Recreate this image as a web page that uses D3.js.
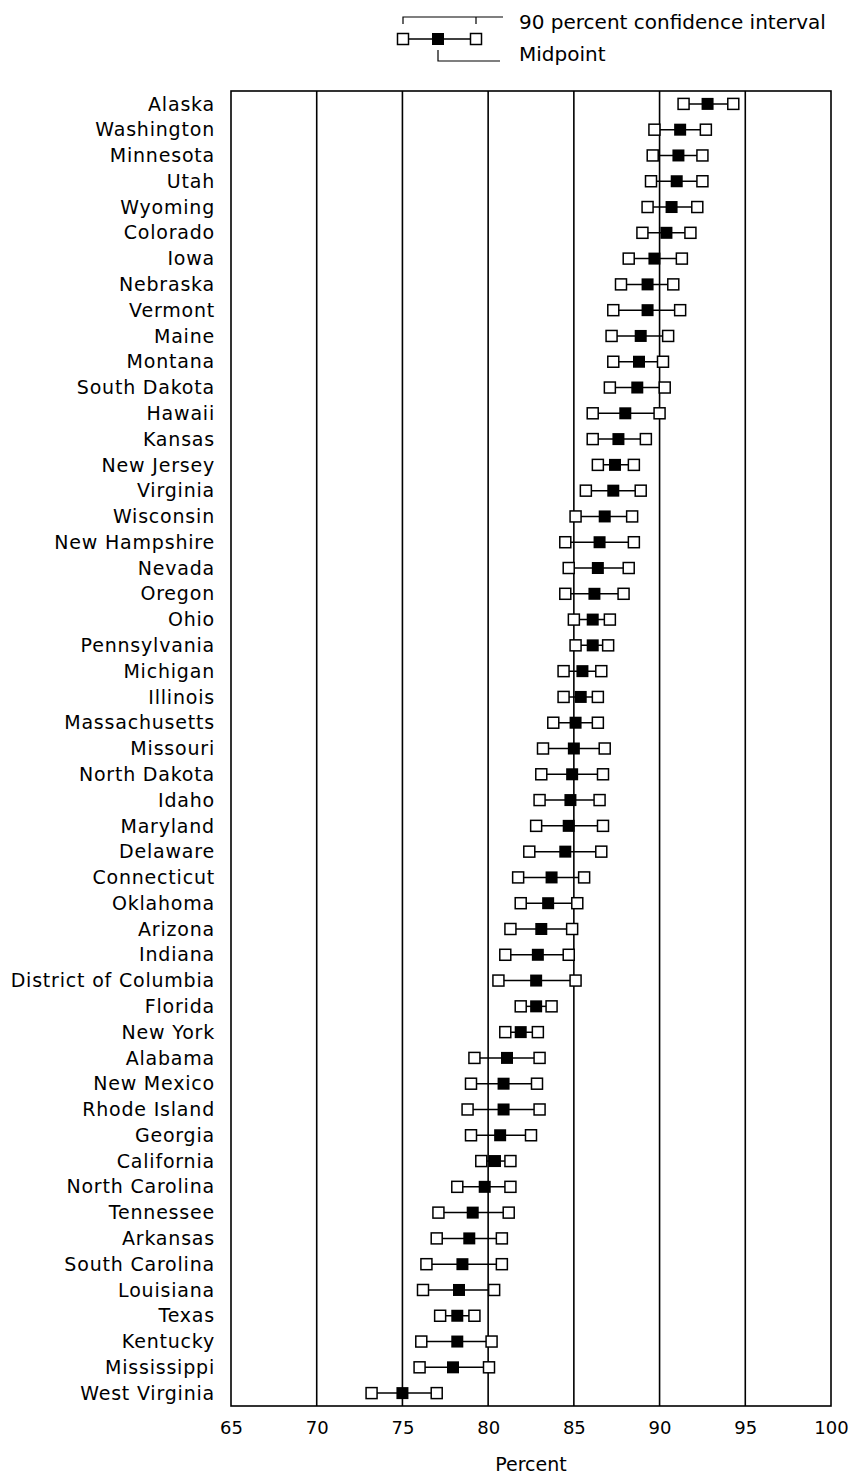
<!DOCTYPE html>
<html>
<head>
<meta charset="utf-8">
<script src="https://cdnjs.cloudflare.com/ajax/libs/d3/7.8.5/d3.min.js"></script>
<style>
    body { margin: 0; background: #fff; }
    svg text { font-family: "DejaVu Sans", sans-serif; fill: #000; }
</style>
</head>
<body>
<svg id="chart" width="852" height="1475"></svg>
<script>

    /*=============== DATA ============*/

    var states = [
        'Alaska', 'Washington', 'Minnesota', 'Utah', 'Wyoming', 'Colorado', 'Iowa', 'Nebraska',
        'Vermont', 'Maine', 'Montana', 'South Dakota', 'Hawaii', 'Kansas', 'New Jersey', 'Virginia',
        'Wisconsin', 'New Hampshire', 'Nevada', 'Oregon', 'Ohio', 'Pennsylvania', 'Michigan',
        'Illinois', 'Massachusetts', 'Missouri', 'North Dakota', 'Idaho', 'Maryland', 'Delaware',
        'Connecticut', 'Oklahoma', 'Arizona', 'Indiana', 'District of Columbia', 'Florida',
        'New York', 'Alabama', 'New Mexico', 'Rhode Island', 'Georgia', 'California',
        'North Carolina', 'Tennessee', 'Arkansas', 'South Carolina', 'Louisiana', 'Texas',
        'Kentucky', 'Mississippi', 'West Virginia'
    ];

    var midpoints = [
        92.8, 91.2, 91.1, 91.0, 90.7, 90.4, 89.7, 89.3,
        89.3, 88.9, 88.8, 88.7, 88.0, 87.6, 87.4, 87.3,
        86.8, 86.5, 86.4, 86.2, 86.1, 86.1, 85.5,
        85.4, 85.1, 85.0, 84.9, 84.8, 84.7, 84.5,
        83.7, 83.5, 83.1, 82.9, 82.8, 82.8,
        81.9, 81.1, 80.9, 80.9, 80.7, 80.4,
        79.8, 79.1, 78.9, 78.5, 78.3, 78.2,
        78.2, 77.95, 75.0
    ];

    var lower = [
        91.4, 89.7, 89.6, 89.5, 89.3, 89.0, 88.2, 87.75,
        87.3, 87.2, 87.3, 87.1, 86.1, 86.1, 86.4, 85.7,
        85.1, 84.5, 84.7, 84.5, 85.0, 85.1, 84.4,
        84.4, 83.8, 83.2, 83.1, 83.0, 82.8, 82.4,
        81.75, 81.9, 81.3, 81.0, 80.6, 81.9,
        81.0, 79.2, 79.0, 78.8, 79.0, 79.6,
        78.2, 77.1, 77.0, 76.4, 76.2, 77.2,
        76.1, 76.0, 73.2
    ];

    var upper = [
        94.3, 92.7, 92.5, 92.5, 92.2, 91.8, 91.3, 90.8,
        91.2, 90.5, 90.2, 90.3, 90.0, 89.2, 88.5, 88.9,
        88.4, 88.5, 88.2, 87.9, 87.1, 87.0, 86.6,
        86.4, 86.4, 86.8, 86.7, 86.5, 86.7, 86.6,
        85.6, 85.2, 84.9, 84.7, 85.1, 83.7,
        82.9, 83.0, 82.85, 83.0, 82.5, 81.3,
        81.3, 81.2, 80.8, 80.8, 80.35, 79.2,
        80.2, 80.05, 77.0
    ];

    var xTicks = [65, 70, 75, 80, 85, 90, 95, 100];
    var gridValues = [70, 75, 80, 85, 90, 95];

    (function () {

        var rows = states.map(function (name, i) {
            return { name: name, mid: midpoints[i], lo: lower[i], hi: upper[i] };
        });

        /*=============== LAYOUT ============*/

        var plotLeft = 231, plotRight = 831, plotTop = 91, plotBottom = 1406;
        var openSize = 11;
        var fillSize = 12;

        var svg = d3.select('#chart');

        var x = d3.scaleLinear().domain([65, 100]).range([plotLeft, plotRight]);
        var y = d3.scaleBand().domain(states).range([plotTop, plotBottom]).padding(0);

        var cy = function (d) {
            return y(d.name) + y.bandwidth() / 2;
        };

        /*=============== GRID AND FRAME ============*/

        svg.append('g').selectAll('line')
            .data(gridValues)
            .enter().append('line')
                .attr('x1', function (d) { return x(d); })
                .attr('x2', function (d) { return x(d); })
                .attr('y1', plotTop)
                .attr('y2', plotBottom)
                .attr('stroke', '#000')
                .attr('stroke-width', 1.6);

        svg.append('rect')
            .attr('x', plotLeft)
            .attr('y', plotTop)
            .attr('width', plotRight - plotLeft)
            .attr('height', plotBottom - plotTop)
            .attr('fill', 'none')
            .attr('stroke', '#000')
            .attr('stroke-width', 1.6);

        /*=============== X AXIS ============*/

        var xAxis = d3.axisBottom(x).tickValues(xTicks).tickSize(0).tickPadding(15);

        var axisG = svg.append('g')
            .attr('transform', 'translate(0,' + plotBottom + ')')
            .call(xAxis);

        axisG.select('.domain').remove();
        axisG.selectAll('text')
            .attr('font-size', '18px')
            .style('font-family', '"DejaVu Sans", sans-serif');

        svg.append('text')
            .attr('x', (plotLeft + plotRight) / 2)
            .attr('y', 1471)
            .attr('text-anchor', 'middle')
            .attr('font-size', '19px')
            .text('Percent');

        /*=============== STATE LABELS ============*/

        svg.append('g').selectAll('text')
            .data(rows)
            .enter().append('text')
                .attr('x', 215)
                .attr('y', cy)
                .attr('dy', '0.35em')
                .attr('text-anchor', 'end')
                .attr('font-size', '19px')
                .attr('letter-spacing', '0.8px')
                .text(function (d) { return d.name; });

        /*=============== INTERVALS ============*/

        var marks = svg.append('g').selectAll('g.state')
            .data(rows)
            .enter().append('g')
                .attr('class', 'state');

        marks.append('line')
            .attr('x1', function (d) { return x(d.lo); })
            .attr('x2', function (d) { return x(d.hi); })
            .attr('y1', cy)
            .attr('y2', cy)
            .attr('stroke', '#000')
            .attr('stroke-width', 1.5);

        ['lo', 'hi'].forEach(function (key) {
            marks.append('rect')
                .attr('x', function (d) { return x(d[key]) - openSize / 2; })
                .attr('y', function (d) { return cy(d) - openSize / 2; })
                .attr('width', openSize)
                .attr('height', openSize)
                .attr('fill', '#fff')
                .attr('stroke', '#000')
                .attr('stroke-width', 1.5);
        });

        marks.append('rect')
            .attr('x', function (d) { return x(d.mid) - fillSize / 2; })
            .attr('y', function (d) { return cy(d) - fillSize / 2; })
            .attr('width', fillSize)
            .attr('height', fillSize)
            .attr('fill', '#000');

        /*=============== LEGEND ============*/

        var legend = svg.append('g');
        var lx = [403, 438, 476];
        var ly = 39;

        legend.append('path')
            .attr('d', 'M' + lx[0] + ',24V17H503M' + lx[2] + ',17V24')
            .attr('fill', 'none')
            .attr('stroke', '#000')
            .attr('stroke-width', 1.2);

        legend.append('path')
            .attr('d', 'M' + lx[1] + ',50V61H500')
            .attr('fill', 'none')
            .attr('stroke', '#000')
            .attr('stroke-width', 1.2);

        legend.append('line')
            .attr('x1', lx[0]).attr('x2', lx[2])
            .attr('y1', ly).attr('y2', ly)
            .attr('stroke', '#000')
            .attr('stroke-width', 1.5);

        legend.selectAll('rect.open')
            .data([lx[0], lx[2]])
            .enter().append('rect')
                .attr('class', 'open')
                .attr('x', function (d) { return d - openSize / 2; })
                .attr('y', ly - openSize / 2)
                .attr('width', openSize)
                .attr('height', openSize)
                .attr('fill', '#fff')
                .attr('stroke', '#000')
                .attr('stroke-width', 1.5);

        legend.append('rect')
            .attr('x', lx[1] - fillSize / 2)
            .attr('y', ly - fillSize / 2)
            .attr('width', fillSize)
            .attr('height', fillSize)
            .attr('fill', '#000');

        legend.append('text')
            .attr('x', 519)
            .attr('y', 29)
            .attr('font-size', '20px')
            .text('90 percent confidence interval');

        legend.append('text')
            .attr('x', 519)
            .attr('y', 61)
            .attr('font-size', '20px')
            .text('Midpoint');

    })();

</script>
</body>
</html>
